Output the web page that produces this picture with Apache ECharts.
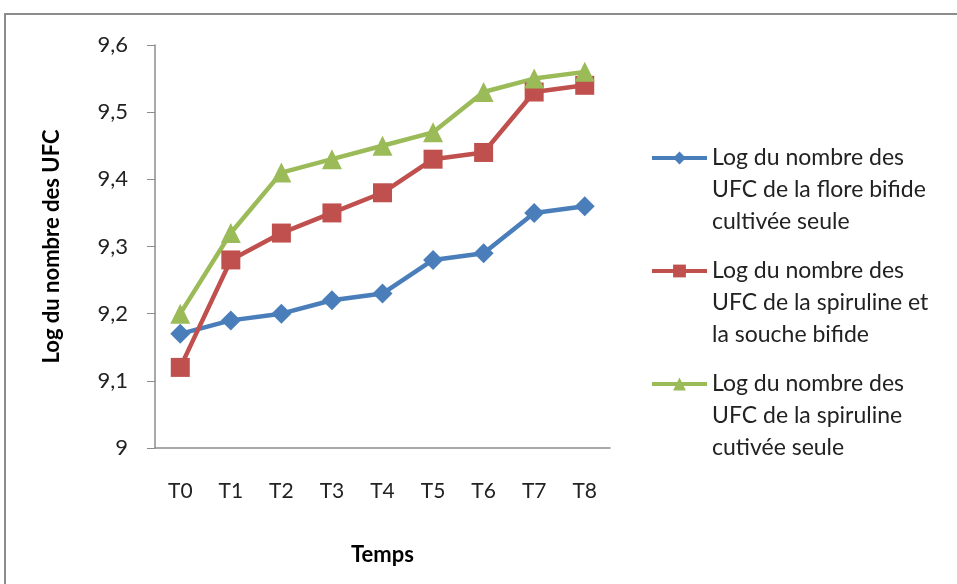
<!DOCTYPE html>
<html><head><meta charset="utf-8">
<script src="https://cdn.jsdelivr.net/npm/echarts@6/dist/echarts.min.js"></script>
<style>html,body{margin:0;padding:0;background:#fff}#c{width:957px;height:584px}</style>
</head><body><div id="c"></div>
<script>
var categories = ['T0','T1','T2','T3','T4','T5','T6','T7','T8'];
var seriesNames = [
  'Log du nombre des\nUFC de la flore bifide\ncultivée seule',
  'Log du nombre des\nUFC de la spiruline et\nla souche bifide',
  'Log du nombre des\nUFC de la spiruline\ncutivée seule'
];
var floreBifide = [9.17, 9.19, 9.20, 9.22, 9.23, 9.28, 9.29, 9.35, 9.36];
var spirulineEtBifide = [9.12, 9.28, 9.32, 9.35, 9.38, 9.43, 9.44, 9.53, 9.54];
var spirulineSeule = [9.20, 9.32, 9.41, 9.43, 9.45, 9.47, 9.53, 9.55, 9.56];
var yMin = 9, yMax = 9.6, yStep = 0.1;

var font = 'Lato';
var chart = echarts.init(document.getElementById('c'), null, {renderer: 'canvas'});
function mk(name, data, color, symbol, size) {
  return {
    name: name, type: 'line', data: data,
    symbol: symbol, symbolSize: size, showSymbol: true,
    lineStyle: {color: color, width: 4.5},
    itemStyle: {color: color},
    emphasis: {disabled: true},
    animation: false
  };
}
var LH = 32;
chart.setOption({
  animation: false,
  graphic: [{
    type: 'rect', shape: {x: 5, y: 14, width: 1100, height: 800},
    style: {fill: 'none', stroke: '#8c8c8c', lineWidth: 2}, z: -1
  }],
  grid: {left: 155, right: 347, top: 45, bottom: 136},
  legend: {
    orient: 'vertical', left: 650, top: 158 - 2.5 * LH, padding: 0,
    itemWidth: 55, itemHeight: 16, itemGap: 113 - 5 * LH,
    selectedMode: false,
    formatter: function (n) { return '\n\n' + n; },
    lineStyle: {width: 4},
    textStyle: {fontFamily: font, fontSize: 23, color: '#222', lineHeight: LH},
    data: seriesNames.map(function (n) { return {name: n}; })
  },
  xAxis: {
    type: 'category', data: categories, boundaryGap: true,
    name: 'Temps', nameLocation: 'middle', nameGap: 96,
    nameTextStyle: {fontFamily: font, fontSize: 22, fontWeight: 'bold', color: '#000'},
    axisLine: {lineStyle: {color: '#8c8c8c', width: 1.5}},
    axisTick: {show: false},
    axisLabel: {fontFamily: font, fontSize: 21, color: '#222', margin: 33}
  },
  yAxis: {
    type: 'value', min: yMin, max: yMax, interval: yStep,
    name: 'Log du nombre des UFC', nameLocation: 'middle', nameGap: 92,
    nameTextStyle: {fontFamily: font, fontSize: 22, fontWeight: 'bold', color: '#000'},
    axisLine: {show: true, lineStyle: {color: '#8c8c8c', width: 1.5}},
    axisTick: {show: true, length: 8, lineStyle: {color: '#8c8c8c'}},
    splitLine: {show: false},
    axisLabel: {
      fontFamily: font, fontSize: 22, color: '#222', margin: 27,
      formatter: function (v) { return Math.abs(v - Math.round(v)) < 1e-9 ? String(Math.round(v)) : v.toFixed(1).replace('.', ','); }
    }
  },
  series: [
    mk(seriesNames[0], floreBifide, '#4a7ebb', 'diamond', 20),
    mk(seriesNames[1], spirulineEtBifide, '#c0504d', 'rect', 19),
    mk(seriesNames[2], spirulineSeule, '#9bbb59', 'triangle', 20)
  ]
});
</script></body></html>
